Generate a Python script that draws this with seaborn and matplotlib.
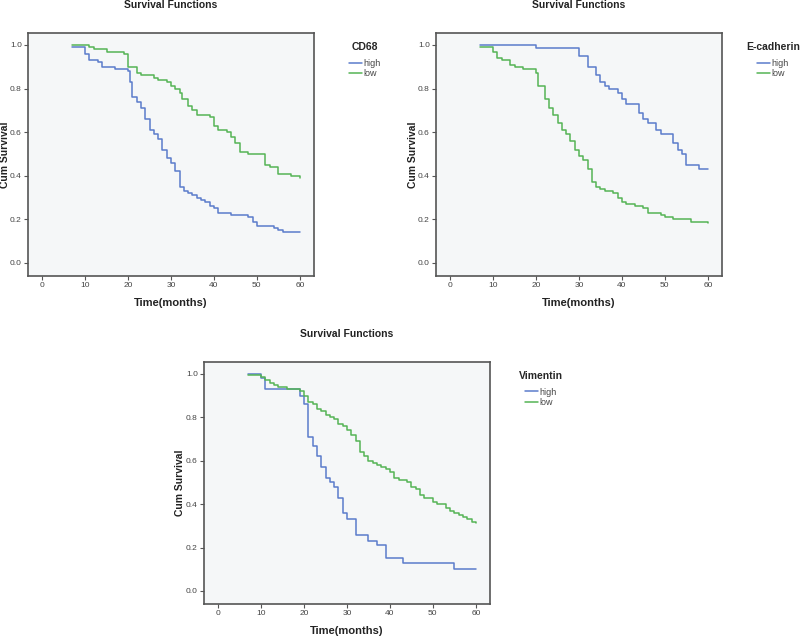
import pandas as pd
from matplotlib import pyplot as plt
import seaborn as sns
import numpy as np

# Kaplan-Meier step curves (time in months, cum survival)
cd68_high_t = [7, 10, 11, 13, 14, 17, 20, 20.5, 21, 22, 23, 24, 25, 26, 27, 28, 29, 30, 31, 32, 33, 34, 35, 36, 37, 38, 39, 40, 41, 44, 48, 49, 50, 54, 55, 56, 60]
cd68_high_s = [0.99, 0.96, 0.93, 0.92, 0.90, 0.89, 0.88, 0.83, 0.76, 0.74, 0.71, 0.66, 0.61, 0.59, 0.57, 0.52, 0.48, 0.46, 0.42, 0.35, 0.33, 0.32, 0.31, 0.30, 0.29, 0.28, 0.26, 0.25, 0.23, 0.22, 0.21, 0.19, 0.17, 0.16, 0.15, 0.14, 0.14]
cd68_low_t = [7, 11, 12, 15, 19, 20, 22, 23, 26, 27, 29, 30, 31, 32, 32.5, 34, 35, 36, 39, 40, 41, 43, 44, 45, 46, 48, 52, 53, 55, 58, 60]
cd68_low_s = [1.0, 0.99, 0.98, 0.97, 0.96, 0.90, 0.87, 0.86, 0.85, 0.84, 0.83, 0.81, 0.80, 0.78, 0.75, 0.72, 0.70, 0.68, 0.67, 0.63, 0.61, 0.60, 0.58, 0.55, 0.51, 0.50, 0.45, 0.44, 0.41, 0.40, 0.39]

ecad_high_t = [7, 20, 30, 32, 34, 35, 36, 37, 39, 40, 41, 44, 45, 46, 48, 49, 52, 53, 54, 55, 58, 60]
ecad_high_s = [1.0, 0.985, 0.95, 0.90, 0.86, 0.83, 0.81, 0.80, 0.78, 0.75, 0.73, 0.69, 0.66, 0.64, 0.61, 0.59, 0.55, 0.52, 0.50, 0.45, 0.43, 0.43]
ecad_low_t = [7, 10, 11, 12, 14, 15, 17, 20, 20.5, 22, 23, 24, 25, 26, 27, 28, 29, 30, 31, 32, 33, 34, 35, 36, 38, 39, 40, 41, 43, 45, 46, 49, 50, 52, 56, 60]
ecad_low_s = [0.99, 0.97, 0.94, 0.93, 0.91, 0.90, 0.89, 0.87, 0.81, 0.75, 0.71, 0.68, 0.64, 0.61, 0.59, 0.56, 0.52, 0.49, 0.47, 0.43, 0.37, 0.35, 0.34, 0.33, 0.32, 0.30, 0.28, 0.27, 0.26, 0.25, 0.23, 0.22, 0.21, 0.20, 0.19, 0.185]

vim_high_t = [7, 10, 11, 19, 20, 21, 22, 23, 24, 25, 26, 27, 28, 29, 30, 32, 35, 37, 39, 43, 55, 60]
vim_high_s = [1.0, 0.98, 0.93, 0.90, 0.86, 0.71, 0.67, 0.62, 0.57, 0.52, 0.50, 0.48, 0.43, 0.36, 0.33, 0.26, 0.23, 0.21, 0.15, 0.13, 0.10, 0.10]
vim_low_t = [7, 10, 11, 12, 13, 14, 16, 19, 20, 21, 22, 23, 24, 25, 26, 27, 28, 29, 30, 31, 32, 33, 34, 35, 36, 37, 38, 39, 40, 41, 42, 44, 45, 46, 47, 48, 50, 51, 53, 54, 55, 56, 57, 58, 59, 60]
vim_low_s = [0.995, 0.985, 0.97, 0.96, 0.95, 0.94, 0.93, 0.92, 0.90, 0.87, 0.86, 0.84, 0.83, 0.81, 0.80, 0.79, 0.77, 0.76, 0.74, 0.72, 0.69, 0.64, 0.62, 0.60, 0.59, 0.58, 0.57, 0.56, 0.55, 0.52, 0.51, 0.50, 0.48, 0.47, 0.44, 0.43, 0.41, 0.40, 0.38, 0.37, 0.36, 0.35, 0.34, 0.33, 0.32, 0.315]

groups = ["high", "low"]
x_ticks = [0, 10, 20, 30, 40, 50, 60]
y_ticks = [0.0, 0.2, 0.4, 0.6, 0.8, 1.0]


def km_frame(high_t, high_s, low_t, low_s):
    return pd.concat([
        pd.DataFrame({"time": high_t, "surv": high_s, "group": "high"}),
        pd.DataFrame({"time": low_t, "surv": low_s, "group": "low"}),
    ]).reset_index(drop=True)


panels = [
    ("CD68", km_frame(cd68_high_t, cd68_high_s, cd68_low_t, cd68_low_s)),
    ("E-cadherin", km_frame(ecad_high_t, ecad_high_s, ecad_low_t, ecad_low_s)),
    ("Vimentin", km_frame(vim_high_t, vim_high_s, vim_low_t, vim_low_s)),
]

sns.set_style("white")
plt.rcParams["font.family"] = ["Liberation Sans", "DejaVu Sans"]

palette = {"high": "#5b7ccb", "low": "#55b455"}
edge = "#555555"

fig = plt.figure(figsize=(8, 6.37), dpi=100)
positions = [
    [0.035, 0.5667, 0.3575, 0.3815],
    [0.545, 0.5667, 0.3575, 0.3815],
    [0.255, 0.0518, 0.3575, 0.380],
]
ylabel_x = [-0.062, -0.063, -0.066]

for (name, df), pos, lx in zip(panels, positions, ylabel_x):
    ax = fig.add_axes(pos)
    ax.set_facecolor("#f5f7f8")
    sns.lineplot(ax=ax, data=df, x="time", y="surv", hue="group",
                 hue_order=groups, palette=palette, drawstyle="steps-post",
                 estimator=None, linewidth=1.1, legend=False)
    ax.set_xlim(-3.3, 63.3)
    ax.set_ylim(-0.06, 1.055)
    ax.set_xticks(x_ticks)
    ax.set_yticks(y_ticks)
    ax.set_yticklabels([f"{v:.1f}" for v in y_ticks])
    ax.tick_params(axis="both", direction="out", length=3, width=0.8,
                   color=edge, labelsize=6, labelcolor="#444444", pad=1.5)
    ax.tick_params(left=True, bottom=True)
    for sp in ax.spines.values():
        sp.set_color(edge)
        sp.set_linewidth(1.2)
    ax.set_xlabel("Time(months)", fontsize=8, fontweight="bold", color="#222222", labelpad=6)
    ax.set_ylabel("Cum Survival", fontsize=7.5, fontweight="bold", color="#222222")
    ax.yaxis.set_label_coords(lx, 0.5)
    ax.set_title("Survival Functions", fontsize=7.5, fontweight="bold", color="#222222", pad=18)
    handles = [plt.Line2D([], [], color=palette[g], linewidth=1.1) for g in groups]
    leg = ax.legend(handles, groups, title=name, loc="upper center",
                    bbox_to_anchor=(1.178, 0.99), frameon=False, fontsize=6.5,
                    title_fontsize=7.5, handlelength=1.5, handletextpad=0.15,
                    labelspacing=0.15, borderpad=0.2)
    leg.get_title().set_fontweight("bold")
    leg._legend_box.sep = 5
    for t in leg.get_texts():
        t.set_color("#444444")

plt.savefig("out.png", dpi=100)
